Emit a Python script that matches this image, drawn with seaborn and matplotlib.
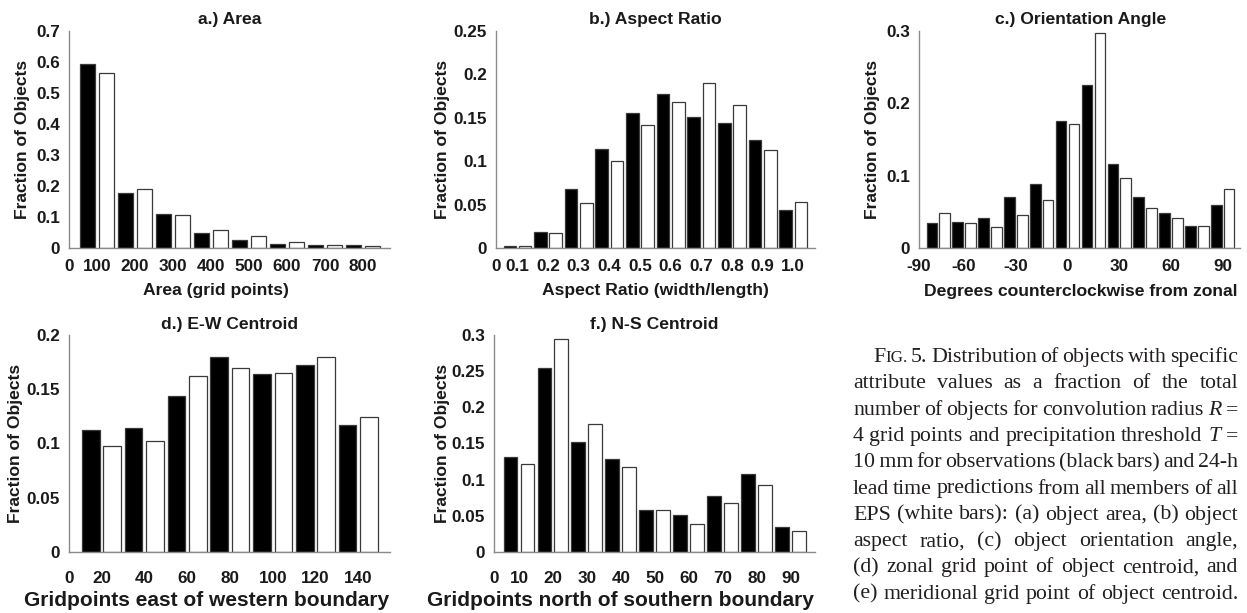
import numpy as np
import pandas as pd
import matplotlib
matplotlib.use("Agg")
import matplotlib.pyplot as plt
import seaborn as sns

sns.set_theme(style="white")
plt.rcParams["font.family"] = ["Liberation Sans", "DejaVu Sans"]
plt.rcParams["font.weight"] = "bold"

# ---- data: fraction of objects per bin (observations vs. EPS forecasts) ----
area_labels = ["100", "200", "300", "400", "500", "600", "700", "800"]
area_obs = [0.593, 0.177, 0.111, 0.050, 0.026, 0.013, 0.010, 0.010]
area_eps = [0.563, 0.190, 0.108, 0.058, 0.038, 0.020, 0.010, 0.008]

aspect_labels = ["0.1", "0.2", "0.3", "0.4", "0.5", "0.6", "0.7", "0.8", "0.9", "1.0"]
aspect_obs = [0.002, 0.019, 0.068, 0.114, 0.156, 0.177, 0.151, 0.144, 0.124, 0.044]
aspect_eps = [0.002, 0.017, 0.052, 0.100, 0.142, 0.168, 0.190, 0.165, 0.113, 0.053]

angle_bins = ["-75", "-60", "-45", "-30", "-15", "0", "15", "30", "45", "60", "75", "90"]
angle_obs = [0.035, 0.036, 0.041, 0.071, 0.089, 0.175, 0.226, 0.116, 0.071, 0.049, 0.031, 0.059]
angle_eps = [0.048, 0.034, 0.029, 0.046, 0.067, 0.171, 0.297, 0.097, 0.055, 0.041, 0.031, 0.081]
angle_ticks = ["-60", "-30", "0", "30", "60", "90"]

ew_labels = ["20", "40", "60", "80", "100", "120", "140"]
ew_obs = [0.112, 0.114, 0.144, 0.180, 0.164, 0.172, 0.117]
ew_eps = [0.098, 0.102, 0.162, 0.170, 0.165, 0.180, 0.124]

ns_labels = ["10", "20", "30", "40", "50", "60", "70", "80", "90"]
ns_obs = [0.132, 0.255, 0.152, 0.129, 0.058, 0.051, 0.078, 0.108, 0.035]
ns_eps = [0.122, 0.295, 0.177, 0.117, 0.058, 0.039, 0.068, 0.093, 0.029]

W, H = 1247, 613
fig = plt.figure(figsize=(W / 100, H / 100), dpi=100)
fig.patch.set_facecolor("white")

TXT = "#1a1a1a"
SPINE = "#8a8a8a"
TICK_FS = 12.3
LABEL_FS = 12.6


def px_axes(left, top, right, bottom):
    return fig.add_axes([left / W, 1 - bottom / H, (right - left) / W, (bottom - top) / H])


def ftext(x, y, s, **kw):
    return fig.text(x / W, 1 - y / H, s, color=TXT, fontweight="bold", **kw)


def panel(rect, cats, obs, eps, title, xlabel, ymax, ystep, xlim,
          tick_cats, left_label, xpad, title_xy, xlabel_xy, ylab_x,
          xlabel_fs=LABEL_FS, xlabel_ha="center"):
    ax = px_axes(*rect)
    df = pd.DataFrame({
        "bin": list(cats) * 2,
        "frac": list(obs) + list(eps),
        "src": ["obs"] * len(cats) + ["eps"] * len(cats),
    })
    sns.barplot(data=df, x="bin", y="frac", hue="src", order=cats,
                hue_order=["obs", "eps"],
                palette={"obs": "black", "eps": "white"},
                width=1.0, gap=0.18, edgecolor="#3a3a3a", linewidth=0.9,
                legend=False, ax=ax)
    ax.set_xlim(xlim[0] - 1, xlim[1] - 1)
    ax.set_ylim(0, ymax)
    yt = np.round(np.arange(0, ymax + ystep / 2, ystep), 3)
    ax.set_yticks(yt)
    ax.set_yticklabels([f"{v:g}" for v in yt])
    pos = [xlim[0] - 1] + [list(cats).index(c) for c in tick_cats]
    ax.set_xticks(pos)
    ax.set_xticklabels([left_label] + list(tick_cats))
    ax.tick_params(axis="both", length=0, labelsize=TICK_FS, labelcolor=TXT)
    ax.tick_params(axis="x", pad=xpad)
    ax.tick_params(axis="y", pad=6.5)
    for lab in ax.get_xticklabels() + ax.get_yticklabels():
        lab.set_fontweight("bold")
    for s in ["top", "right"]:
        ax.spines[s].set_visible(False)
    for s in ["left", "bottom"]:
        ax.spines[s].set_color(SPINE)
        ax.spines[s].set_linewidth(1.0)
    ax.set_xlabel("")
    ax.set_ylabel("")
    ax.set_facecolor("white")
    ftext(*title_xy, title, ha="center", va="baseline", fontsize=LABEL_FS)
    ftext(*xlabel_xy, xlabel, ha=xlabel_ha, va="center", fontsize=xlabel_fs)
    ftext(ylab_x, (rect[1] + rect[3]) / 2, "Fraction of Objects", rotation=90,
          ha="center", va="center", fontsize=LABEL_FS)
    return ax


panel((69, 31, 390, 248), area_labels, area_obs, area_eps, "a.) Area",
      "Area (grid points)", 0.7, 0.1, (0.263, 8.71), area_labels, "0", 8,
      (230, 24), (216, 290), 23)
panel((496, 31, 815, 248), aspect_labels, aspect_obs, aspect_eps, "b.) Aspect Ratio",
      "Aspect Ratio (width/length)", 0.25, 0.05, (0.30, 10.71), aspect_labels, "0", 8,
      (655, 24), (655, 290), 443)
panel((919, 31, 1240, 248), angle_bins, angle_obs, angle_eps, "c.) Orientation Angle",
      "Degrees counterclockwise from zonal", 0.3, 0.1, (0.253, 12.67),
      angle_ticks, "-90", 8, (1081, 24), (1081, 292), 873)
panel((69, 335, 390, 552), ew_labels, ew_obs, ew_eps, "d.) E-W Centroid",
      "Gridpoints east of western boundary", 0.2, 0.05, (0.24, 7.74), ew_labels, "0", 14,
      (230, 329), (389, 601), 16, xlabel_fs=15.0, xlabel_ha="right")
panel((494, 335, 815, 552), ns_labels, ns_obs, ns_eps, "f.) N-S Centroid",
      "Gridpoints north of southern boundary", 0.3, 0.05, (0.265, 9.71), ns_labels, "0", 14,
      (654, 329), (814, 601), 443, xlabel_fs=15.0, xlabel_ha="right")

# ---- justified figure caption ----
N = ("normal", 1.0)
SC = ("normal", 0.78)
IT = ("italic", 1.0)
caption = [
    [[("F", N), ("IG.", SC)], [("5.", N)], [("Distribution", N)], [("of", N)],
     [("objects", N)], [("with", N)], [("specific", N)]],
    "attribute values as a fraction of the total",
    [[("number", N)], [("of", N)], [("objects", N)], [("for", N)],
     [("convolution", N)], [("radius", N)], [("R", IT)], [("=", N)]],
    [[("4", N)], [("grid", N)], [("points", N)], [("and", N)],
     [("precipitation", N)], [("threshold", N)], [("T", IT)], [("=", N)]],
    "10\u2009mm for observations (black bars) and 24-h",
    "lead time predictions from all members of all",
    "EPS (white bars): (a) object area, (b) object",
    "aspect ratio, (c) object orientation angle,",
    "(d) zonal grid point of object centroid, and",
    "(e) meridional grid point of object centroid.",
]
caption = [[[(w, N)] for w in ln.split(" ")] if isinstance(ln, str) else ln
           for ln in caption]

renderer = fig.canvas.get_renderer()
CAP_FONT = ["Liberation Serif", "DejaVu Serif"]


def seg_width(txt, size, style):
    t = fig.text(0, 0, txt, fontsize=size, family=CAP_FONT, style=style,
                 fontweight="normal")
    w = t.get_window_extent(renderer).width
    t.remove()
    return w


x0, x1 = 853, 1238
indent = 20
base0, lead = 362, 26.3

# choose the size so that the last line sets naturally across the column
probe = 14.0
last = caption[-1]
nat = sum(seg_width(s, probe * f, st) for w in last for s, (st, f) in w)
nat += seg_width(" ", probe, "normal") * (len(last) - 1)
cap_size = probe * (x1 - x0) / nat * 0.995

for i, words in enumerate(caption):
    left = x0 + (indent if i == 0 else 0)
    widths = [sum(seg_width(s, cap_size * f, st) for s, (st, f) in w) for w in words]
    space = (x1 - left - sum(widths)) / (len(words) - 1)
    x = left
    y = 1 - (base0 + i * lead) / H
    for w, wd in zip(words, widths):
        xs = x
        for s, (st, f) in w:
            fig.text(xs / W, y, s, fontsize=cap_size * f, family=CAP_FONT,
                     style=st, fontweight="normal", color="#231f20",
                     ha="left", va="baseline")
            xs += seg_width(s, cap_size * f, st)
        x += wd + space

fig.savefig("out.png", dpi=100, facecolor="white")
